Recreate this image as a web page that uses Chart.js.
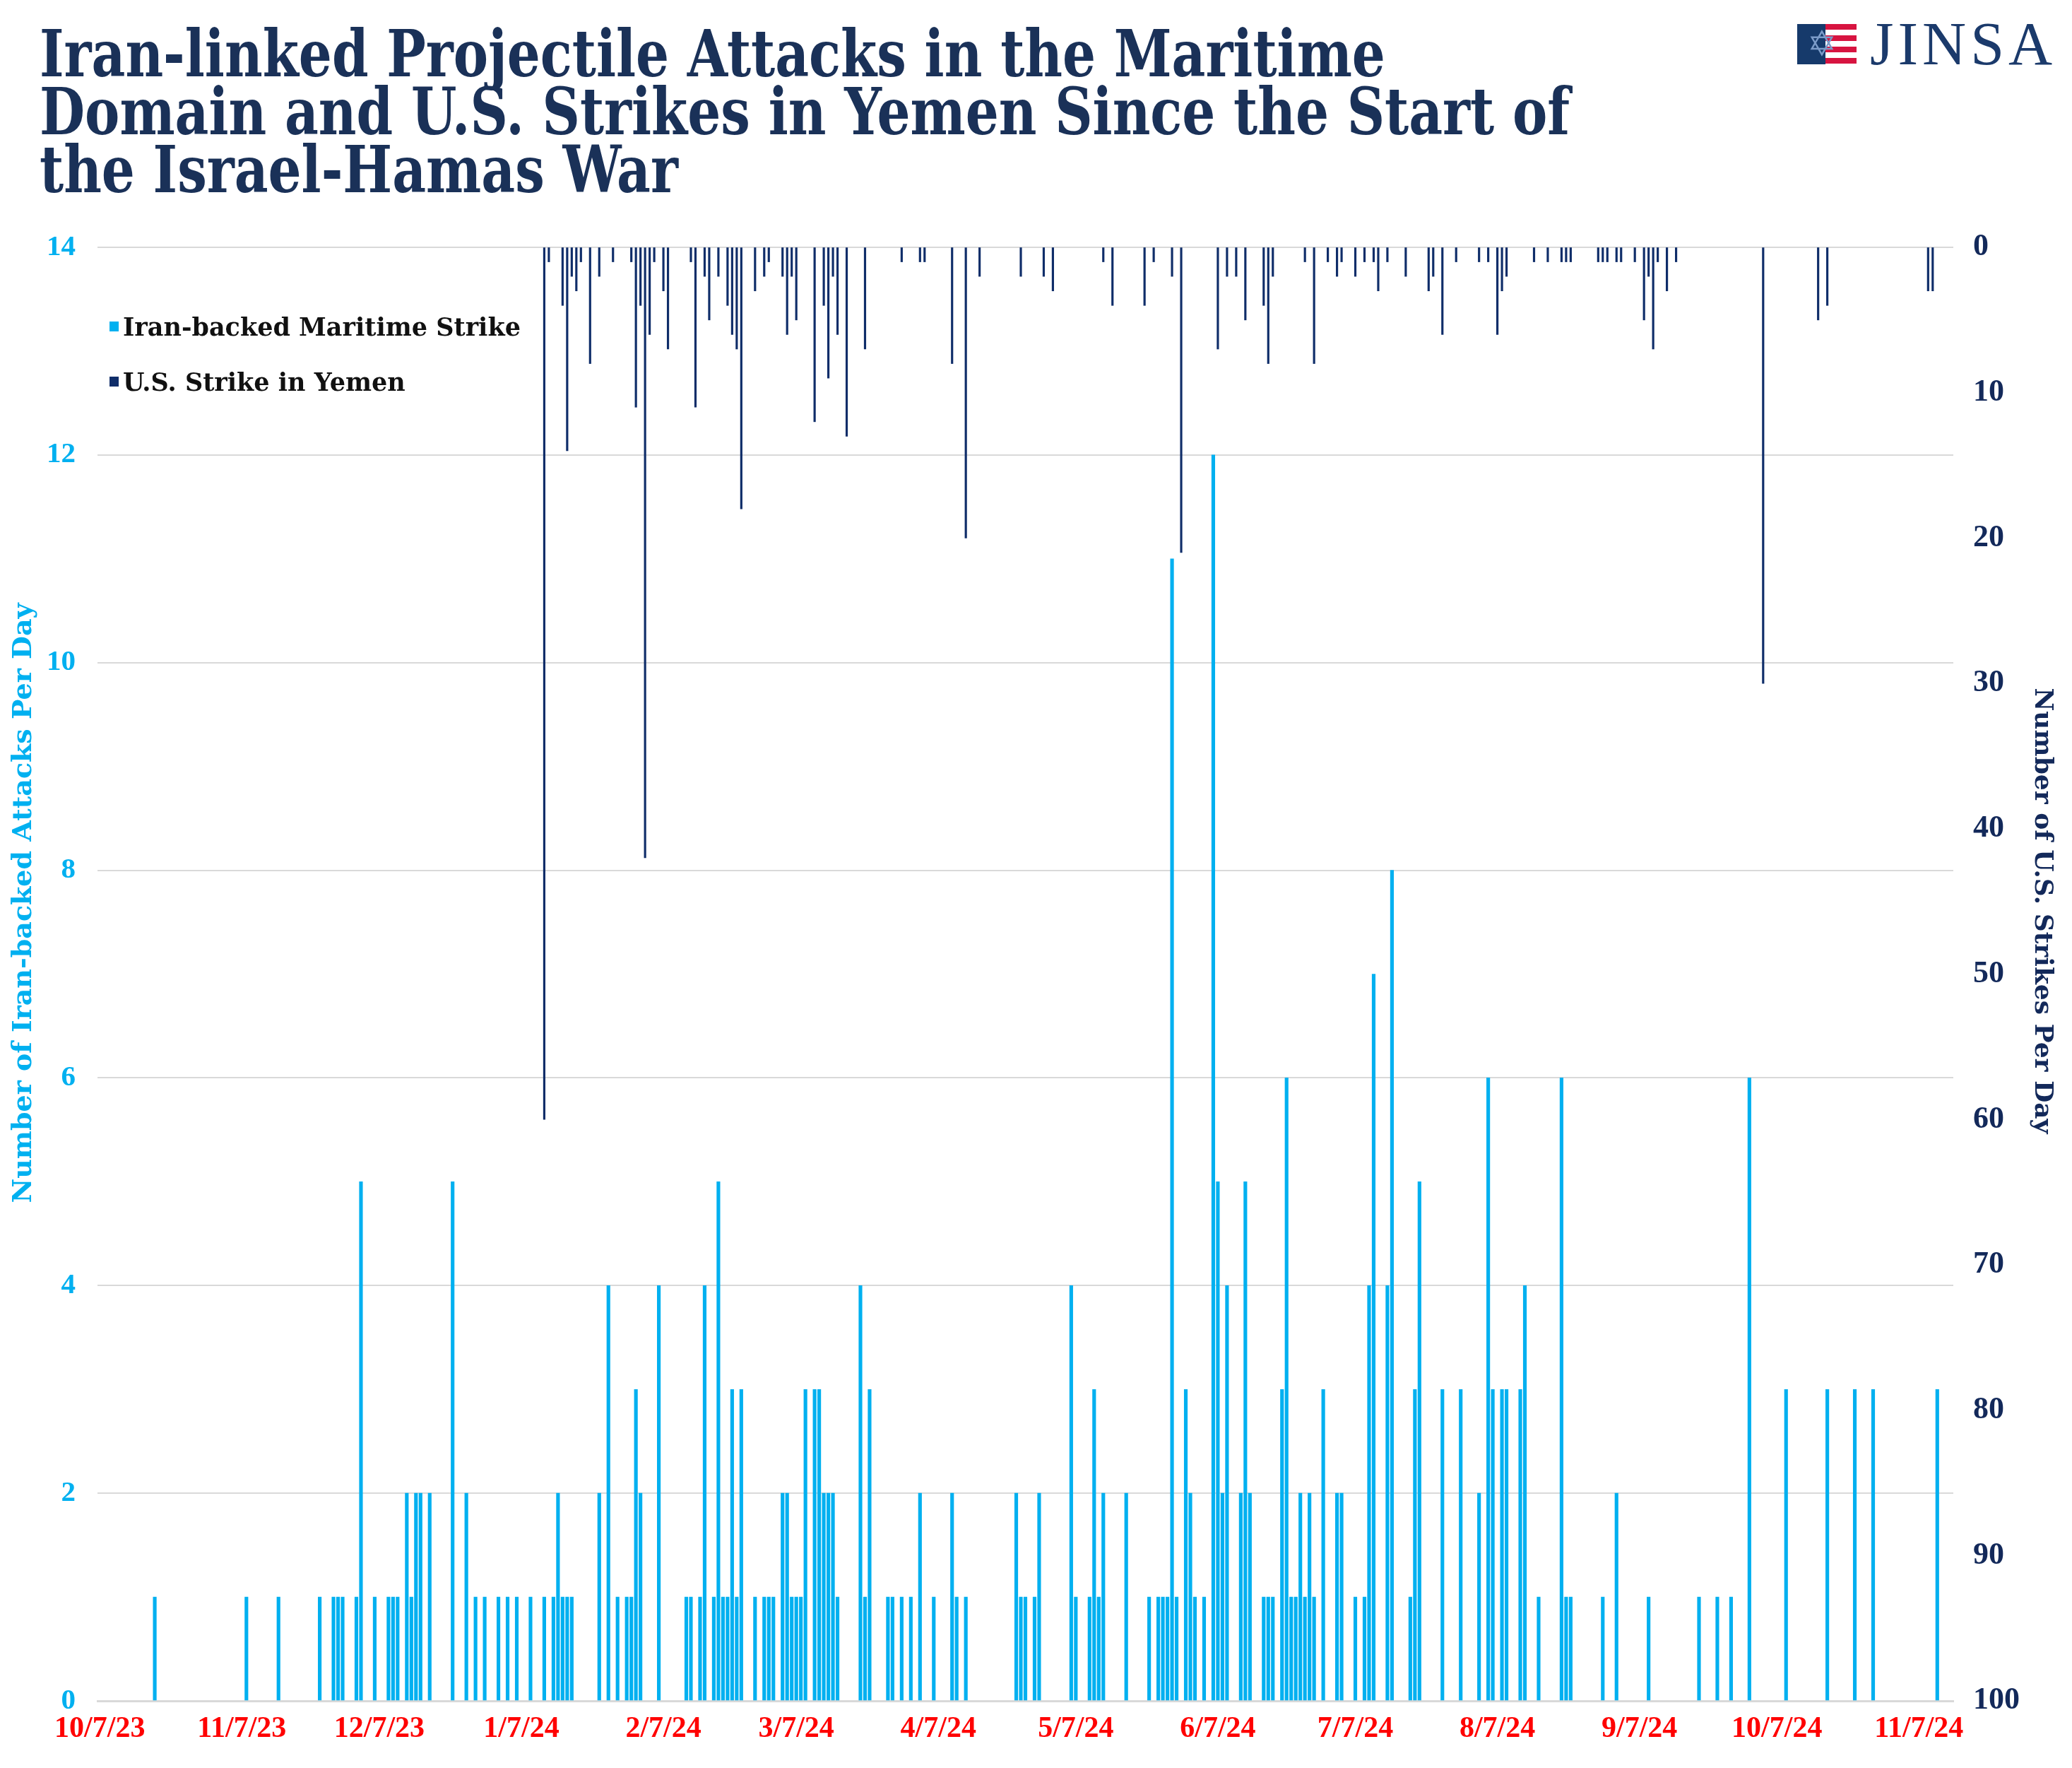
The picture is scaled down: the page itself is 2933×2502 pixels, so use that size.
<!DOCTYPE html>
<html>
<head>
<meta charset="utf-8">
<title>Iran-linked Projectile Attacks and U.S. Strikes in Yemen</title>
<script src="https://cdn.jsdelivr.net/npm/chart.js@4.4.1/dist/chart.umd.min.js"></script>
<style>
  html, body { margin: 0; padding: 0; background: #fff; }
  #wrap { position: relative; width: 2933px; height: 2502px; overflow: hidden; }
  #chart { position: absolute; left: 0; top: 0; }
  #title {
    position: absolute; left: 56px; top: 35px; margin: 0;
    display: inline-block; white-space: nowrap;
    font-family: "DejaVu Serif", serif; font-weight: bold;
    font-size: 92px; line-height: 82px; color: #1a3158;
    transform-origin: left top;
  }
  #flag { position: absolute; left: 2544px; top: 34px; width: 84px; height: 57px;
    background: repeating-linear-gradient(to bottom, #d71440 0 8px, #fff 8px 16px); }
  #flag .blue { position: absolute; left: 0; top: 0; width: 40px; height: 57px; background: #163a6b; }
  #flag .star { position: absolute; left: 14px; top: 0; font-family: "DejaVu Sans"; font-size: 50px; line-height: 57px; color: #7b9bc8; }
  #jinsa { position: absolute; left: 2647px; top: 18px; font-family: "Liberation Serif", serif;
    font-size: 86px; line-height: 88px; letter-spacing: 6px; color: #1b3a6b; }
</style>
</head>
<body>
<div id="wrap">
  <canvas id="chart" width="2933" height="2502"></canvas>
  <h1 id="title">Iran-linked Projectile Attacks in the Maritime<br>Domain and U.S. Strikes in Yemen Since the Start of<br>the Israel-Hamas War</h1>
  <div id="flag"><div class="blue"></div><span class="star">✡</span></div>
  <div id="jinsa">JINSA</div>
</div>
<script>
// one category per day, 10/7/23 onward
const dayCount = 405;
const days = [];
for (let i = 0; i < dayCount; i++) {
  const d = new Date(2023, 9, 7 + i);
  days.push((d.getMonth() + 1) + '/' + d.getDate() + '/' + String(d.getFullYear()).slice(2));
}

const tickLabels = ['10/7/23', '11/7/23', '12/7/23', '1/7/24', '2/7/24', '3/7/24', '4/7/24',
  '5/7/24', '6/7/24', '7/7/24', '8/7/24', '9/7/24', '10/7/24', '11/7/24'];

// Iran-backed maritime attacks (days with at least one attack)
const iranDates = [
  '10/19/23', '11/8/23', '11/15/23', '11/24/23', '11/27/23', '11/28/23', '11/29/23',
  '12/2/23', '12/3/23', '12/6/23', '12/9/23', '12/10/23', '12/11/23', '12/13/23', '12/14/23', '12/15/23', '12/16/23', '12/18/23', '12/23/23', '12/26/23', '12/28/23', '12/30/23',
  '1/2/24', '1/4/24', '1/6/24', '1/9/24', '1/12/24', '1/14/24', '1/15/24', '1/16/24', '1/17/24', '1/18/24', '1/24/24', '1/26/24', '1/28/24', '1/30/24', '1/31/24',
  '2/1/24', '2/2/24', '2/6/24', '2/12/24', '2/13/24', '2/15/24', '2/16/24', '2/18/24', '2/19/24', '2/20/24', '2/21/24', '2/22/24', '2/23/24', '2/24/24', '2/27/24', '2/29/24',
  '3/1/24', '3/2/24', '3/4/24', '3/5/24', '3/6/24', '3/7/24', '3/8/24', '3/9/24', '3/11/24', '3/12/24', '3/13/24', '3/14/24', '3/15/24', '3/16/24', '3/21/24', '3/22/24', '3/23/24', '3/27/24', '3/28/24', '3/30/24',
  '4/1/24', '4/3/24', '4/6/24', '4/10/24', '4/11/24', '4/13/24', '4/24/24', '4/25/24', '4/26/24', '4/28/24', '4/29/24',
  '5/6/24', '5/7/24', '5/10/24', '5/11/24', '5/12/24', '5/13/24', '5/18/24', '5/23/24', '5/25/24', '5/26/24', '5/27/24', '5/28/24', '5/29/24', '5/31/24',
  '6/1/24', '6/2/24', '6/4/24', '6/6/24', '6/7/24', '6/8/24', '6/9/24', '6/12/24', '6/13/24', '6/14/24', '6/17/24', '6/18/24', '6/19/24', '6/21/24', '6/22/24', '6/23/24', '6/24/24', '6/25/24', '6/26/24', '6/27/24', '6/28/24', '6/30/24',
  '7/3/24', '7/4/24', '7/7/24', '7/9/24', '7/10/24', '7/11/24', '7/14/24', '7/15/24', '7/19/24', '7/20/24', '7/21/24', '7/26/24', '7/30/24',
  '8/3/24', '8/5/24', '8/6/24', '8/8/24', '8/9/24', '8/12/24', '8/13/24', '8/16/24', '8/21/24', '8/22/24', '8/23/24', '8/30/24',
  '9/2/24', '9/9/24', '9/20/24', '9/24/24', '9/27/24',
  '10/1/24', '10/9/24', '10/18/24', '10/24/24', '10/28/24', '11/11/24'
];
const iranAttacks = [
  1, 1, 1, 1, 1, 1, 1,
  1, 5, 1, 1, 1, 1, 2, 1, 2, 2, 2, 5, 2, 1, 1,
  1, 1, 1, 1, 1, 1, 2, 1, 1, 1, 2, 4, 1, 1, 1,
  3, 2, 4, 1, 1, 1, 4, 1, 5, 1, 1, 3, 1, 3, 1, 1,
  1, 1, 2, 2, 1, 1, 1, 3, 3, 3, 2, 2, 2, 1, 4, 1, 3, 1, 1, 1,
  1, 2, 1, 2, 1, 1, 2, 1, 1, 1, 2,
  4, 1, 1, 3, 1, 2, 2, 1, 1, 1, 1, 11, 1, 3,
  2, 1, 1, 12, 5, 2, 4, 2, 5, 2, 1, 1, 1, 3, 6, 1, 1, 2, 1, 2, 1, 3,
  2, 2, 1, 1, 4, 7, 4, 8, 1, 3, 5, 3, 3,
  2, 6, 3, 3, 3, 3, 4, 1, 6, 1, 1, 1,
  2, 1, 1, 1, 1,
  6, 3, 3, 3, 3, 3
];

// U.S. strikes in Yemen
const usDates = [
  '1/12/24', '1/13/24', '1/16/24', '1/17/24', '1/18/24', '1/19/24', '1/20/24', '1/22/24', '1/24/24', '1/27/24', '1/31/24',
  '2/1/24', '2/2/24', '2/3/24', '2/4/24', '2/5/24', '2/7/24', '2/8/24', '2/13/24', '2/14/24', '2/16/24', '2/17/24', '2/19/24', '2/21/24', '2/22/24', '2/23/24', '2/24/24', '2/27/24', '2/29/24',
  '3/1/24', '3/4/24', '3/5/24', '3/6/24', '3/7/24', '3/11/24', '3/13/24', '3/14/24', '3/15/24', '3/16/24', '3/18/24', '3/22/24', '3/30/24',
  '4/3/24', '4/4/24', '4/10/24', '4/13/24', '4/16/24', '4/25/24', '4/30/24',
  '5/2/24', '5/13/24', '5/15/24', '5/22/24', '5/24/24', '5/28/24', '5/30/24',
  '6/7/24', '6/9/24', '6/11/24', '6/13/24', '6/17/24', '6/18/24', '6/19/24', '6/26/24', '6/28/24',
  '7/1/24', '7/3/24', '7/4/24', '7/7/24', '7/9/24', '7/11/24', '7/12/24', '7/14/24', '7/18/24', '7/23/24', '7/24/24', '7/26/24', '7/29/24',
  '8/3/24', '8/5/24', '8/7/24', '8/8/24', '8/9/24', '8/15/24', '8/18/24', '8/21/24', '8/22/24', '8/23/24', '8/29/24', '8/30/24', '8/31/24',
  '9/2/24', '9/3/24', '9/6/24', '9/8/24', '9/9/24', '9/10/24', '9/11/24', '9/13/24', '9/15/24',
  '10/4/24', '10/16/24', '10/18/24', '11/9/24', '11/10/24'
];
const usStrikes = [
  60, 1, 4, 14, 2, 3, 1, 8, 2, 1, 1,
  11, 4, 42, 6, 1, 3, 7, 1, 11, 2, 5, 2, 4, 6, 7, 18, 3, 2,
  1, 2, 6, 2, 5, 12, 4, 9, 2, 6, 13, 7, 1,
  1, 1, 8, 20, 2, 2, 2,
  3, 1, 4, 4, 1, 2, 21,
  7, 2, 2, 5, 4, 8, 2, 1, 8,
  1, 2, 1, 2, 1, 1, 3, 1, 2, 3, 2, 6, 1,
  1, 1, 6, 3, 2, 1, 1, 1, 1, 1, 1, 1, 1,
  1, 1, 1, 5, 2, 7, 1, 3, 1,
  30, 5, 4, 3, 3
];

const toDaily = (dates, values) => days.map(d => {
  const i = dates.indexOf(d);
  return i < 0 ? null : values[i];
});

const iranColor = '#00B0F0';
const usColor = '#0F2D69';

// legend inside the plot and the two axis titles
const chartText = {
  id: 'chartText',
  afterDraw(chart) {
    const { ctx, chartArea } = chart;
    ctx.save();
    ctx.textBaseline = 'alphabetic';
    ctx.font = 'bold 35px "DejaVu Serif"';
    chart.data.datasets.forEach((ds, i) => {
      const y = chartArea.top + 112 + i * 78;
      ctx.fillStyle = ds.backgroundColor;
      ctx.fillRect(chartArea.left + 17, y - 7, 13, 14);
      ctx.fillStyle = '#111';
      ctx.fillText(ds.label, chartArea.left + 36, y + 13);
    });

    ctx.textAlign = 'center';
    ctx.textBaseline = 'middle';
    ctx.save();
    ctx.translate(34, 1278);
    ctx.rotate(-Math.PI / 2);
    ctx.fillStyle = iranColor;
    ctx.font = 'bold 38px "DejaVu Serif"';
    ctx.fillText('Number of Iran-backed Attacks Per Day', 0, 0);
    ctx.restore();

    ctx.translate(2890, 1289);
    ctx.rotate(Math.PI / 2);
    ctx.fillStyle = '#13295a';
    ctx.font = 'bold 36px "DejaVu Serif"';
    ctx.fillText('Number of U.S. Strikes Per Day', 0, 0);
    ctx.restore();
  }
};

new Chart(document.getElementById('chart'), {
  type: 'bar',
  data: {
    labels: days,
    datasets: [
      {
        label: 'Iran-backed Maritime Strike',
        data: toDaily(iranDates, iranAttacks),
        backgroundColor: iranColor,
        yAxisID: 'y',
        barThickness: 4.5,
        grouped: false
      },
      {
        label: 'U.S. Strike in Yemen',
        data: toDaily(usDates, usStrikes),
        backgroundColor: usColor,
        yAxisID: 'y2',
        barThickness: 2.5,
        grouped: false
      }
    ]
  },
  options: {
    responsive: false,
    animation: false,
    layout: { padding: { top: 350 } },
    plugins: { legend: { display: false }, tooltip: { enabled: false } },
    scales: {
      x: {
        offset: true,
        grid: {
          offset: true,
          drawOnChartArea: false,
          tickLength: 10,
          lineWidth: 2,
          color: ctx => tickLabels.includes(days[ctx.index]) ? '#D9D9D9' : 'rgba(0,0,0,0)'
        },
        border: { display: true, color: '#D9D9D9', width: 3 },
        ticks: {
          autoSkip: false,
          maxRotation: 0,
          minRotation: 0,
          padding: 5,
          color: '#FF0000',
          font: { family: 'Liberation Serif', weight: 'bold', size: 42 },
          callback: (v, i) => tickLabels.includes(days[i]) ? days[i] : null
        },
        afterFit: s => { s.height = 95; }
      },
      y: {
        position: 'left',
        min: 0,
        max: 14,
        ticks: {
          stepSize: 2,
          padding: 31,
          color: iranColor,
          font: { family: 'Liberation Serif', weight: 'bold', size: 41 }
        },
        grid: { color: '#D9D9D9', lineWidth: 2, drawTicks: false },
        border: { display: false },
        afterFit: s => { s.width = 138; }
      },
      y2: {
        position: 'right',
        min: 0,
        max: 100,
        reverse: true,
        ticks: {
          stepSize: 10,
          padding: 28,
          color: '#13295a',
          font: { family: 'Liberation Serif', weight: 'bold', size: 44 }
        },
        grid: { drawOnChartArea: false, drawTicks: false },
        border: { display: false },
        afterFit: s => { s.width = 168; }
      }
    }
  },
  plugins: [chartText]
});

// squeeze the title to the width of the original heading
const title = document.getElementById('title');
title.style.transform = 'scaleX(' + (2166 / title.getBoundingClientRect().width) + ')';
</script>
</body>
</html>
